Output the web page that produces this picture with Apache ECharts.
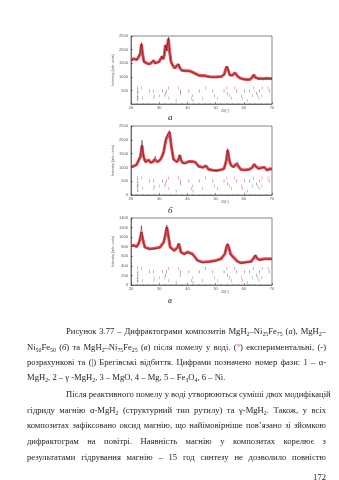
<!DOCTYPE html>
<html>
<head>
<meta charset="utf-8">
<script src="https://cdn.jsdelivr.net/npm/echarts@6/dist/echarts.min.js"></script>
<style>
  html, body { margin: 0; padding: 0; background: #fff; }
  #page { position: relative; width: 339px; height: 480px; overflow: hidden; }
  #chart { position: absolute; left: 0; top: 0; width: 339px; height: 480px; }
  .ln {
    position: absolute; left: 27px; width: 299px; height: 12px; line-height: 12px;
    font-family: "Liberation Serif", "Times New Roman", serif; font-size: 8.6px; color: #1c1c1c;
    white-space: nowrap; text-align: justify; text-align-last: justify;
  }
  .ind { left: 66px; width: 260px; }
  .last { text-align: left; text-align-last: left; }
  .num { left: 300px; width: 26px; text-align: right; text-align-last: right; }
  sub { font-size: 0.68em; line-height: 0; vertical-align: -0.3em; }
  .red { color: #d0302e; }
</style>
</head>
<body>
<div id="page">
  <div id="chart"></div>

  <div class="ln ind" style="top:325px">Рисунок 3.77 – Дифрактограми композитів MgH<sub>2</sub>–Ni<sub>25</sub>Fe<sub>75</sub> (<i>а</i>), MgH<sub>2</sub>–</div>
  <div class="ln" style="top:340.5px">Ni<sub>50</sub>Fe<sub>50</sub> (<i>б</i>) та MgH<sub>2</sub>–Ni<sub>75</sub>Fe<sub>25</sub> (<i>в</i>) після помелу у воді. (<span class="red">°</span>) експериментальні, (-)</div>
  <div class="ln" style="top:356px">розрахункові та (|) Брегівські відбиття. Цифрами позначено номер фази: 1 – α-</div>
  <div class="ln last" style="top:371px">MgH<sub>2</sub>, 2 – γ -MgH<sub>2</sub>, 3 – MgO, 4 – Mg, 5 – Fe<sub>3</sub>O<sub>4</sub>, 6 – Ni.</div>

  <div class="ln ind" style="top:388px">Після реактивного помелу у воді утворюються суміші двох модифікацій</div>
  <div class="ln" style="top:403.5px">гідриду магнію α-MgH<sub>2</sub> (структурний тип рутилу) та γ-MgH<sub>2</sub>. Також, у всіх</div>
  <div class="ln" style="top:419px">композитах зафіксовано оксид магнію, що найімовірніше пов’язано зі зйомкою</div>
  <div class="ln" style="top:435px">дифрактограм на повітрі. Наявність магнію у композитах корелює з</div>
  <div class="ln" style="top:451px">результатами гідрування магнію – 15 год синтезу не дозволило повністю</div>
  <div class="ln num" style="top:471px">172</div>
</div>

<script>
// ---- Diffractogram (а): MgH2–Ni25Fe75 ----
const angA = [
  20.0, 20.8, 21.5, 22.2, 22.8, 23.3, 23.7, 24.1, 24.6, 25.2,
  26.0, 26.8, 27.5, 28.0, 28.5, 29.2, 30.0, 30.6, 31.0, 31.4,
  31.8, 32.2, 32.6, 32.9, 33.3, 33.7, 34.2, 34.8, 35.5, 36.2,
  36.8, 37.3, 38.0, 39.0, 40.0, 41.0, 42.0, 43.0, 44.0, 45.0,
  45.8, 46.4, 47.0, 48.0, 50.0, 52.0, 53.0, 53.6, 54.0, 54.5,
  55.0, 55.5, 56.0, 56.8, 57.4, 58.0, 58.8, 59.8, 61.0, 62.2,
  63.0, 63.5, 64.0, 65.0, 66.0, 67.0, 68.0, 69.0, 70.0
];
const obsA = [
  1610, 1660, 1680, 1640, 1620, 1850, 2200, 1850, 1560, 1500,
  1480, 1480, 1520, 1600, 1500, 1480, 1560, 1620, 1750, 1650,
  1800, 2150, 1950, 2000, 2400, 1900, 1550, 1420, 1320, 1320,
  1460, 1330, 1240, 1220, 1220, 1210, 1160, 1110, 1060, 1040,
  1050, 1090, 1020, 1000, 995, 1010, 1080, 1280, 1370, 1230,
  1070, 1040, 1060, 1150, 1100, 1000, 950, 920, 900, 905,
  980, 1070, 990, 940, 935, 930, 945, 940, 935
];
const calcA = [
  1600, 1650, 1670, 1630, 1610, 1870, 2260, 1870, 1550, 1490,
  1470, 1470, 1510, 1610, 1490, 1470, 1550, 1610, 1760, 1640,
  1810, 2190, 1960, 2020, 2460, 1920, 1540, 1410, 1310, 1310,
  1470, 1320, 1230, 1210, 1210, 1200, 1150, 1100, 1050, 1030,
  1040, 1100, 1010, 990, 985, 1000, 1070, 1290, 1400, 1240,
  1060, 1030, 1050, 1150, 1090, 990, 940, 910, 890, 895,
  980, 1080, 985, 930, 925, 920, 935, 930, 925
];

// ---- Diffractogram (б): MgH2–Ni50Fe50 ----
const angB = [
  20.0, 21.0, 22.0, 22.7, 23.3, 23.6, 23.9, 24.2, 24.5, 25.1,
  25.7, 26.3, 26.9, 27.8, 28.3, 28.6, 28.9, 29.4, 30.4, 31.0,
  31.6, 32.1, 32.5, 33.1, 33.7, 34.0, 34.4, 35.1, 36.3, 36.9,
  37.3, 37.7, 38.3, 39.3, 40.3, 41.0, 42.0, 42.8, 44.0, 45.5,
  46.6, 47.5, 49.0, 50.5, 52.0, 53.0, 53.7, 54.3, 54.9, 55.5,
  56.4, 57.3, 57.8, 58.4, 59.0, 60.5, 62.0, 63.0, 63.7, 64.4,
  65.3, 66.3, 67.3, 68.2, 69.2, 70.0
];
const obsB = [
  1015, 1050, 1100, 1160, 1380, 1550, 1800, 1520, 1380, 1200,
  1230, 1280, 1180, 1200, 1280, 1350, 1280, 1200, 1280, 1400,
  1560, 1850, 2040, 1980, 2280, 2000, 1700, 1290, 1200, 1300,
  1440, 1280, 1170, 1160, 1210, 1230, 1210, 1190, 1040, 1000,
  1060, 930, 900, 890, 920, 960, 1200, 1620, 1230, 1075,
  1020, 1120, 1190, 1000, 920, 910, 930, 1000, 1110, 1020,
  960, 990, 1010, 900, 950, 945
];
const calcB = [
  1005, 1040, 1090, 1150, 1400, 1650, 1980, 1600, 1380, 1190,
  1220, 1260, 1170, 1190, 1300, 1400, 1290, 1190, 1270, 1390,
  1570, 1880, 2080, 2010, 2340, 2030, 1710, 1280, 1190, 1300,
  1460, 1270, 1160, 1150, 1200, 1220, 1200, 1180, 1030, 990,
  1060, 920, 890, 880, 910, 950, 1220, 1680, 1250, 1065,
  1010, 1120, 1200, 990, 910, 900, 920, 995, 1120, 1010,
  950, 980, 1000, 890, 940, 935
];

// ---- Diffractogram (в): MgH2–Ni75Fe25 ----
const angC = [
  20.0, 21.0, 22.1, 22.9, 23.4, 23.7, 24.0, 24.3, 24.9, 26.7,
  28.5, 30.3, 31.6, 32.2, 32.7, 33.2, 33.9, 35.4, 36.5, 36.9,
  37.3, 37.7, 38.9, 40.0, 40.6, 41.8, 43.6, 45.4, 47.8, 50.1,
  51.9, 53.3, 53.9, 54.3, 54.7, 55.3, 56.3, 57.8, 59.0, 60.8,
  62.6, 63.5, 64.1, 64.7, 65.5, 67.3, 69.4, 70.0
];
const obsC = [
  825, 830, 804, 895, 1000, 1100, 1000, 925, 790, 755,
  770, 790, 895, 1040, 1205, 1040, 790, 720, 790, 860,
  790, 686, 650, 690, 700, 650, 513, 478, 492, 513,
  548, 650, 800, 845, 780, 650, 582, 492, 464, 478,
  492, 560, 617, 560, 527, 548, 548, 545
];
const calcC = [
  815, 820, 795, 900, 1060, 1240, 1060, 930, 780, 745,
  760, 780, 890, 1060, 1255, 1060, 780, 710, 785, 870,
  785, 676, 640, 680, 690, 640, 503, 468, 482, 503,
  538, 650, 820, 870, 790, 640, 575, 482, 455, 468,
  482, 555, 625, 555, 517, 538, 538, 535
];

// Bragg reflection positions (2θ, °) for phases 1–6
const phaseNames = ['1', '2', '3', '4', '5', '6'];
const bragg1 = [23.7, 33.3, 36.8, 46.4, 54.0, 56.8, 63.5, 66.5, 68.6];
const bragg2 = [26.5, 28.0, 31.2, 32.6, 37.5, 40.5, 44.2, 49.0, 53.0, 57.5, 60.2, 62.0, 65.6, 69.0];
const bragg3 = [32.2, 37.6, 54.3, 64.6];
const bragg4 = [28.2, 30.0, 32.0, 41.8, 49.6, 55.0, 59.2, 63.0, 65.0, 66.4];
const bragg5 = [24.0, 28.1, 33.4, 41.5, 45.4, 50.6, 55.7, 59.6, 65.4];
const bragg6 = [36.0, 42.0, 61.2];

// Axis ticks
const xTicks = { min: 20, max: 70, step: 10 };
const yTicksAB = { min: 0, max: 2500, step: 500 };
const yTicksC = { min: 0, max: 1400, step: 200 };

// Panel letters
const panelLetters = ['а', 'б', 'в'];

// ------------------------------------------------------------------
const braggSets = [bragg1, bragg2, bragg3, bragg4, bragg5, bragg6];
const braggColors = ['#d23a3a', '#7d2b44', '#444444', '#3f9a44', '#c24a9e', '#4060c8'];

const panels = [
  { ang: angA, obs: obsA, calc: calcA, y: yTicksAB, grid: { left: 131, top: 36, width: 141, height: 68 },
    rows: [590, 480, 390, 300, 215, 125], showMin: false },
  { ang: angB, obs: obsB, calc: calcB, y: yTicksAB, grid: { left: 131, top: 126, width: 141, height: 69 },
    rows: [620, 505, 410, 325, 240, 145], showMin: true },
  { ang: angC, obs: obsC, calc: calcC, y: yTicksC, grid: { left: 131, top: 218, width: 141, height: 67 },
    rows: [345, 275, 205, 150, 95, 50], showMin: true }
];

const labelFont = { fontFamily: 'Liberation Sans, Arial, sans-serif', fontSize: 4, color: '#555' };

const option = {
  animation: false,
  backgroundColor: '#fff',
  grid: [], xAxis: [], yAxis: [], series: [], graphic: []
};

panels.forEach((p, i) => {
  option.grid.push(Object.assign({ show: true, borderColor: '#333', borderWidth: 0.6, backgroundColor: 'transparent' }, p.grid));
  option.xAxis.push({
    type: 'value', gridIndex: i, min: xTicks.min, max: xTicks.max, interval: xTicks.step,
    axisLine: { lineStyle: { color: '#333', width: 0.6 } },
    axisTick: { inside: true, length: 2, lineStyle: { color: '#333', width: 0.5 } },
    minorTick: { show: true, splitNumber: 5, length: 1, lineStyle: { color: '#444', width: 0.4 } },
    axisLabel: Object.assign({ margin: 2, formatter: v => String(v) }, labelFont),
    splitLine: { show: false }
  });
  option.yAxis.push({
    type: 'value', gridIndex: i, min: p.y.min, max: p.y.max, interval: p.y.step,
    name: 'Intensity (arb. units)', nameLocation: 'middle', nameGap: 15, nameRotate: 90,
    nameTextStyle: Object.assign({}, labelFont, { fontSize: 3.6 }),
    axisLine: { lineStyle: { color: '#333', width: 0.6 } },
    axisTick: { inside: true, length: 2, lineStyle: { color: '#333', width: 0.5 } },
    axisLabel: Object.assign({ margin: 3, showMinLabel: p.showMin, formatter: v => String(v) }, labelFont),
    splitLine: { show: false }
  });

  // experimental profile
  option.series.push({
    type: 'line', xAxisIndex: i, yAxisIndex: i, symbol: 'none', z: 2,
    lineStyle: { color: '#e3303a', width: 3, opacity: 0.85 },
    data: p.ang.map((a, k) => [a, p.obs[k]])
  });
  // calculated profile
  option.series.push({
    type: 'line', xAxisIndex: i, yAxisIndex: i, symbol: 'none', z: 3,
    lineStyle: { color: '#2a0808', width: 0.6, opacity: 0.8 },
    data: p.ang.map((a, k) => [a, p.calc[k]])
  });
  // Bragg reflections, one row per phase
  braggSets.forEach((set, r) => {
    option.series.push({
      type: 'scatter', xAxisIndex: i, yAxisIndex: i, z: 4,
      symbol: 'rect', symbolSize: [0.6, 3],
      itemStyle: { color: braggColors[r], opacity: 0.7 },
      data: set.map(a => [a, p.rows[r]])
    });
  });
  // phase numbers at the left of the rows
  option.series.push({
    type: 'scatter', xAxisIndex: i, yAxisIndex: i, z: 5, symbolSize: 0,
    label: { show: true, position: 'inside', formatter: d => d.value[2],
             fontFamily: 'Liberation Sans, Arial, sans-serif', fontSize: 3, color: '#333' },
    data: phaseNames.map((n, r) => [22.3, p.rows[r], n])
  });

  const g = p.grid;
  option.graphic.push({
    type: 'text', left: 221, top: g.top + g.height + 5,
    style: { text: '2θ(°)', font: '3.6px "Liberation Sans", Arial, sans-serif', fill: '#555' }
  });
  option.graphic.push({
    type: 'text', left: 168, top: g.top + g.height + (i === 0 ? 9 : 11),
    style: { text: panelLetters[i], font: 'italic 9px "Liberation Serif", serif', fill: '#222' }
  });
});

const chart = echarts.init(document.getElementById('chart'), null, { renderer: 'canvas' });
chart.setOption(option);
</script>
</body>
</html>
